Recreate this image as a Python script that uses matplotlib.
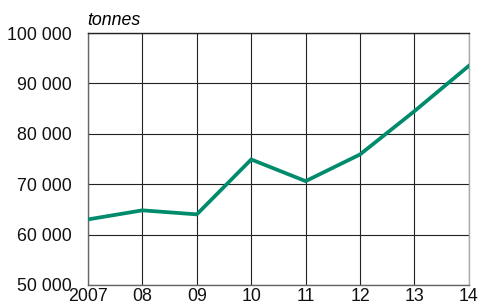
import matplotlib.pyplot as plt

plt.rcParams['font.family'] = ['Liberation Sans', 'DejaVu Sans']

years = [2007, 2008, 2009, 2010, 2011, 2012, 2013, 2014]
year_labels = ['2007', '08', '09', '10', '11', '12', '13', '14']
tonnes = [63000, 64800, 64000, 74900, 70600, 75900, 84500, 93500]
y_ticks = [50000, 60000, 70000, 80000, 90000, 100000]
y_labels = ['50 000', '60 000', '70 000', '80 000', '90 000', '100 000']

fig = plt.figure(figsize=(4.78, 3.06), dpi=100)
ax = fig.add_axes([0.184, 0.069, 0.797, 0.823])

ax.plot(years, tonnes, color='#008C6C', lw=2.7, solid_joinstyle='miter', zorder=3)

ax.set_xlim(2007, 2014)
ax.set_ylim(50000, 100000)
ax.set_xticks(years)
ax.set_xticklabels(year_labels)
ax.set_yticks(y_ticks)
ax.set_yticklabels(y_labels)
ax.tick_params(length=0, labelsize=12.8, colors='#111111')
ax.tick_params(axis='x', pad=2)
ax.tick_params(axis='y', pad=12)
for lab in ax.get_yticklabels():
    lab.set_va('center_baseline')
ax.grid(True, color='#222222', lw=0.8)
for s in ax.spines.values():
    s.set_color('#666666')
    s.set_linewidth(1.0)
ax.spines['top'].set_color('#222222')
ax.spines['right'].set_color('#aaaaaa')

ax.text(-0.003, 1.018, 'tonnes', transform=ax.transAxes, fontsize=12.8,
        style='italic', ha='left', va='bottom')

fig.savefig('out.png', dpi=100)
